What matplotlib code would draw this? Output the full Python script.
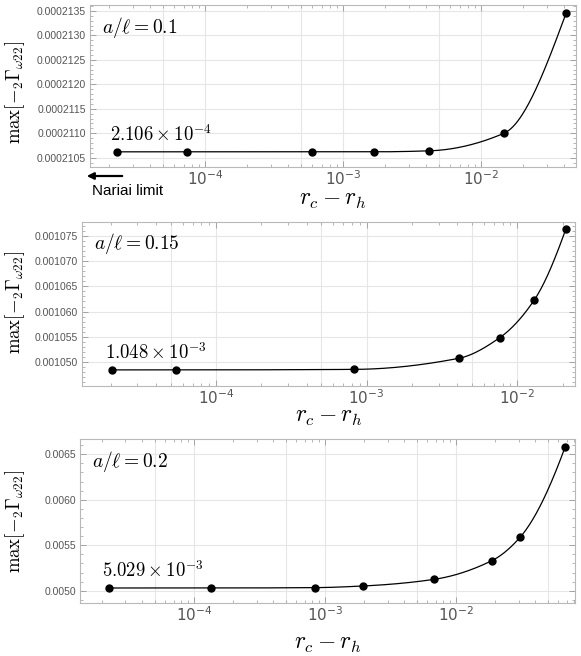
import numpy as np
import matplotlib
matplotlib.use("Agg")
import matplotlib.pyplot as plt
from matplotlib.ticker import NullFormatter, AutoMinorLocator, FormatStrFormatter, LogLocator

plt.rcParams['mathtext.fontset'] = 'cm'

# data
dr_01 = [2.30e-5, 7.41e-5, 5.96e-4, 1.68e-3, 4.2e-3, 1.468e-2, 4.13e-2]
g_01 = [0.00021062, 0.00021062, 0.00021062, 0.00021062, 0.00021064, 0.00021100, 0.00021345]

dr_015 = [2.03e-5, 5.4e-5, 8.2e-4, 4.08e-3, 7.64e-3, 1.29e-2, 2.10e-2]
g_015 = [0.0010484, 0.0010484, 0.0010485, 0.0010507, 0.0010548, 0.0010622, 0.0010764]

dr_02 = [2.24e-5, 1.34e-4, 8.4e-4, 1.95e-3, 6.8e-3, 1.874e-2, 3.08e-2, 6.79e-2]
g_02 = [0.005030, 0.005030, 0.005034, 0.005052, 0.005125, 0.005330, 0.005587, 0.006577]

labels = [r'$a/\ell = 0.1$', r'$a/\ell = 0.15$', r'$a/\ell = 0.2$']
limits = [r'$2.106 \times 10^{-4}$', r'$1.048 \times 10^{-3}$', r'$5.029 \times 10^{-3}$']

yticks_01 = [0.0002105, 0.0002110, 0.0002115, 0.0002120, 0.0002125, 0.0002130, 0.0002135]
yticks_015 = [0.001050, 0.001055, 0.001060, 0.001065, 0.001070, 0.001075]
yticks_02 = [0.0050, 0.0055, 0.0060, 0.0065]
yfmt = ['%.7f', '%.6f', '%.4f']

xlims = [(10**-4.833, 10**-1.312), (10**-4.890, 10**-1.617), (10**-4.870, 10**-1.092)]
ylims = [(0.00021031, 0.00021362), (0.0010452, 0.0010778), (0.004865, 0.006668)]

# axes boxes in pixels: left, right, top, bottom
boxes = [(90, 576, 5, 167), (82, 575, 222, 386), (80, 575, 439, 603)]
xlab_y = [199, 416, 643]
ylab_y = [92, 302, 521]

W, H = 581, 656


def pchip(x, y, xn):
    # monotone cubic through the measured points (log-x space)
    x = np.asarray(x, float)
    y = np.asarray(y, float)
    h = np.diff(x)
    d = np.diff(y) / h
    n = len(x)
    m = np.zeros(n)
    for k in range(1, n - 1):
        if d[k - 1] * d[k] <= 0:
            m[k] = 0
        else:
            w1 = 2 * h[k] + h[k - 1]
            w2 = h[k] + 2 * h[k - 1]
            m[k] = (w1 + w2) / (w1 / d[k - 1] + w2 / d[k])
    m[0] = d[0]
    m[-1] = ((2 * h[-1] + h[-2]) * d[-1] - h[-1] * d[-2]) / (h[-1] + h[-2])
    if m[-1] * d[-1] <= 0:
        m[-1] = 0
    idx = np.clip(np.searchsorted(x, xn) - 1, 0, n - 2)
    t = (xn - x[idx]) / h[idx]
    h00 = 2 * t**3 - 3 * t**2 + 1
    h10 = t**3 - 2 * t**2 + t
    h01 = -2 * t**3 + 3 * t**2
    h11 = t**3 - t**2
    return h00 * y[idx] + h10 * h[idx] * m[idx] + h01 * y[idx + 1] + h11 * h[idx] * m[idx + 1]


fig = plt.figure(figsize=(W / 100, H / 100), dpi=100)

data = [(dr_01, g_01, yticks_01), (dr_015, g_015, yticks_015), (dr_02, g_02, yticks_02)]
framec = '#b8b8b8'
tickc = '#555555'

for i, (xs, ys, yt) in enumerate(data):
    l, r, t, b = boxes[i]
    ax = fig.add_axes([l / W, 1 - b / H, (r - l) / W, (b - t) / H])
    ax.set_xscale('log')
    ax.set_xlim(*xlims[i])
    ax.set_ylim(*ylims[i])

    lx = np.log10(xs)
    xx = np.linspace(lx[0], lx[-1], 400)
    ax.plot(10**xx, pchip(lx, ys, xx), color='black', lw=0.9, zorder=3)
    ax.plot(xs, ys, 'o', color='black', ms=5, zorder=4)

    ax.set_yticks(yt)
    ax.yaxis.set_major_formatter(FormatStrFormatter(yfmt[i]))
    ax.yaxis.set_minor_locator(AutoMinorLocator(5))
    ax.xaxis.set_major_locator(LogLocator(base=10, numticks=10))
    ax.xaxis.set_minor_locator(LogLocator(base=10, subs=np.arange(2, 10), numticks=20))
    ax.xaxis.set_minor_formatter(NullFormatter())

    # grid at 1 and 5 per decade
    for e in range(-6, 0):
        for s in (1, 5):
            ax.axvline(s * 10.0**e, color='#e6e6e6', lw=0.8, zorder=0)
    for v in yt:
        ax.axhline(v, color='#e6e6e6', lw=0.8, zorder=0)

    for sp in ax.spines.values():
        sp.set_color(framec)
        sp.set_linewidth(0.8)
    ax.tick_params(which='both', direction='in', top=True, right=True, color='#999999')
    ax.tick_params(which='major', length=4, width=0.6)
    ax.tick_params(which='minor', length=2, width=0.5)
    ax.tick_params(axis='y', labelsize=7.5, labelcolor=tickc, pad=3)
    ax.tick_params(axis='x', labelsize=11, labelcolor=tickc, pad=1.5)
    for lab in ax.get_yticklabels():
        lab.set_family('Liberation Sans')

    ax.text(12 / (r - l), 1 - 22 / (b - t), labels[i], transform=ax.transAxes,
            fontsize=14, ha='left', va='center')
    ax.annotate(limits[i], xy=(xs[0], ys[0]), xytext=(-7, 7), textcoords='offset pixels',
                fontsize=13.5, ha='left', va='bottom')

    fig.text((l + r) / 2 / W, 1 - xlab_y[i] / H, r'$r_c - r_h$', fontsize=17,
             ha='center', va='center')
    fig.text(15 / W, 1 - ylab_y[i] / H, r'$\mathrm{max}[-{}_2\Gamma_{\omega 22}]$',
             fontsize=13.5, rotation=90, ha='center', va='center')

# Nariai limit arrow below top panel
fig.patches.append(matplotlib.patches.FancyArrowPatch(
    (125 / W, 1 - 176 / H), (84 / W, 1 - 176 / H), transform=fig.transFigure,
    arrowstyle='-|>', mutation_scale=10, color='black', lw=1.6))
fig.text(92 / W, 1 - 191 / H, 'Nariai limit', fontsize=11, family='Liberation Sans',
         ha='left', va='center')

fig.savefig('out.png', dpi=100)
